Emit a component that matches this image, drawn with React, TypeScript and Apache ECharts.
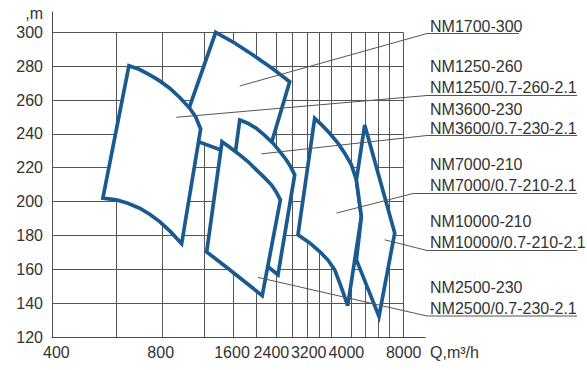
import React, { useEffect, useRef } from "react";
import * as echarts from "echarts";

// Printed (non-uniform) flow scale: Q stops (m³/h) and their positions along the axis
const SCALE_Q = [400, 600, 800, 1200, 1600, 2000, 2400, 2800, 3200, 3400, 3600, 4000, 5000, 6000, 7000, 8000];
const SCALE_POS = [0, 64.4, 110, 152.7, 181, 204.4, 224.4, 240.4, 255, 267.7, 279.4, 299.4, 313.7, 326, 337.7, 351];
const X_TICK_LABELS = [400, 800, 1600, 2400, 3200, 4000, 8000];
const Y_TICKS = [120, 140, 160, 180, 200, 220, 240, 260, 280, 300];

// Operating fields, [Q m³/h, H m]
const NM1700_300 = [[1355, 300], [1629, 293.7], [1942, 286.6], [2306, 278.9], [2732, 270.8], [2166, 221.1], [966, 239.4]];
const NM1250_260 = [[655, 280.3], [702, 278], [746, 274.8], [790, 271.3], [872, 267], [966, 261.5], [1060, 255.1], [1116, 250], [1162, 242.9], [984, 175.1], [882, 182.1], [790, 188.2], [746, 192.5], [702, 196.1], [650, 199], [600, 201], [558, 202]];
const NM3600_230 = [[1715, 248.2], [1851, 246.3], [2000, 243.3], [2166, 239.1], [2332, 234.5], [2483, 229.7], [2650, 224.6], [2758, 220.5], [2863, 215.8], [2440, 156.8], [1483, 182.1]];
const NM2500_230 = [[1445, 235.4], [1568, 231.7], [1715, 227.6], [1860, 223.5], [2000, 218.7], [2156, 214.3], [2300, 209.9], [2396, 205.7], [2500, 201], [2116, 144.4], [1829, 151.9], [1553, 159.7], [1228, 170.3]];
const NM7000_210 = [[3321, 249.2], [3434, 245.3], [3571, 240.4], [3726, 234.7], [3866, 228.6], [4000, 221.7], [4350, 212.8], [4699, 191.2], [3926, 138.5], [3786, 150.3], [3666, 159.7], [3537, 165.6], [3400, 170.5], [3243, 175.6], [2953, 180.4]];
const NM10000_210 = [[4930, 245.3], [7376, 181.4], [6085, 132.2], [4350, 165.6], [4699, 191.2], [4350, 212.8]];

const SHAPES = [NM1700_300, NM1250_260, NM3600_230, NM2500_230, NM7000_210, NM10000_210];

// Callout texts and the point (Q, H) each leader line starts from
const CALLOUT_TEXTS = [
  ["NM1700-300"],
  ["NM1250-260", "NM1250/0.7-260-2.1"],
  ["NM3600-230", "NM3600/0.7-230-2.1"],
  ["NM7000-210", "NM7000/0.7-210-2.1"],
  ["NM10000-210", "NM10000/0.7-210-2.1"],
  ["NM2500-230", "NM2500/0.7-230-2.1"],
];
const CALLOUT_ANCHORS = [[1715, 268.3], [935, 249.8], [2100, 228.2], [3700, 193.2], [6573, 177.4], [2032, 155.2]];

// Layout of the callouts (pixels)
const CALLOUT_LAYOUT = [
  { x: 430, baselines: [32], uy: 33.5, ux0: 427, ux1: 519 },
  { x: 430, baselines: [72, 93], uy: 95.5, ux0: 427, ux1: 577 },
  { x: 430, baselines: [115, 133.5], uy: 135.5, ux0: 427, ux1: 577 },
  { x: 430, baselines: [170, 190.5], uy: 193.5, ux0: 413, ux1: 577 },
  { x: 430, baselines: [226.5, 248], uy: 250.5, ux0: 427, ux1: 577 },
  { x: 430, baselines: [293, 313.5], uy: 316, ux0: 427, ux1: 577 },
];
// Horizontal nudge of each x tick label as printed (pixels)
const X_LABEL_SHIFT = [4.4, -1.3, -1, -5, 1.7, -5, 0.7];

const FONT = '"Liberation Sans", Arial, Helvetica, sans-serif';
const TEXT = "#333";
const GRID_C = "#555";
const BLUE = "#1b5a8f";

function qToX(q: number): number {
  const n = SCALE_Q.length;
  let i = 0;
  if (q <= SCALE_Q[0]) i = 0;
  else if (q >= SCALE_Q[n - 1]) i = n - 2;
  else {
    while (i < n - 2 && q > SCALE_Q[i + 1]) i++;
  }
  const t = (q - SCALE_Q[i]) / (SCALE_Q[i + 1] - SCALE_Q[i]);
  return SCALE_POS[i] + t * (SCALE_POS[i + 1] - SCALE_POS[i]);
}

export default function App() {
  const ref = useRef<HTMLDivElement>(null);
  useEffect(() => {
    if (!ref.current) return;
    const chart = echarts.init(ref.current, undefined, { renderer: "svg" });

    const gridData: any[] = [];
    const yMaxGrid = Y_TICKS[Y_TICKS.length - 1];
    const yMinGrid = Y_TICKS[0];
    Y_TICKS.forEach((h) => gridData.push({ coords: [[qToX(SCALE_Q[0]), h], [qToX(SCALE_Q[SCALE_Q.length - 1]), h]] }));
    SCALE_Q.forEach((q) => gridData.push({ coords: [[qToX(q), yMinGrid], [qToX(q), yMaxGrid]] }));

    const labelPos = X_TICK_LABELS.map((q) => qToX(q));
    const rich: any = {};
    X_LABEL_SHIFT.forEach((s, k) => {
      rich["t" + k] = {
        color: TEXT,
        fontSize: 16,
        fontFamily: FONT,
        padding: s >= 0 ? [0, 0, 0, 2 * s] : [0, -2 * s, 0, 0],
      };
    });

    const option: any = {
      animation: false,
      backgroundColor: "#fff",
      grid: { left: 52, top: 12, width: 373, height: 325, containLabel: false },
      xAxis: {
        type: "value",
        min: 0,
        max: 373,
        axisLine: { show: true, lineStyle: { color: "#444", width: 1 } },
        axisTick: { show: false },
        splitLine: { show: false },
        axisLabel: {
          customValues: labelPos,
          color: TEXT,
          fontSize: 16,
          fontFamily: FONT,
          margin: 7,
          rich,
          formatter: (v: number) => {
            const k = labelPos.findIndex((p) => Math.abs(p - v) < 0.01);
            return k >= 0 ? "{t" + k + "|" + X_TICK_LABELS[k] + "}" : "";
          },
        },
        name: "Q,m³/h",
        nameLocation: "end",
        nameGap: 5,
        nameTextStyle: { color: TEXT, fontSize: 16, fontFamily: FONT, align: "left", verticalAlign: "top", padding: [7, 0, 0, 0] },
      },
      yAxis: {
        type: "value",
        min: 120,
        max: 312,
        interval: 20,
        axisLine: { show: true, lineStyle: { color: "#444", width: 1 } },
        axisTick: { show: false },
        splitLine: { show: false },
        axisLabel: { color: TEXT, fontSize: 16, fontFamily: FONT, margin: 9, showMaxLabel: false },
        name: ",m",
        nameLocation: "end",
        nameGap: -1,
        nameTextStyle: { color: TEXT, fontSize: 16, fontFamily: FONT, align: "right", verticalAlign: "middle", padding: [0, 9, 0, 0] },
      },
      series: [
        {
          type: "lines",
          coordinateSystem: "cartesian2d",
          silent: true,
          z: 1,
          lineStyle: { color: GRID_C, width: 1, opacity: 1 },
          data: gridData,
        },
        {
          type: "custom",
          coordinateSystem: "cartesian2d",
          silent: true,
          z: 3,
          clip: false,
          data: SHAPES.map((_, i) => [i, 200]),
          encode: { x: 0, y: 1 },
          renderItem: (params: any, api: any) => {
            const pts = SHAPES[params.dataIndex].map(([q, h]) => api.coord([qToX(q), h]));
            return {
              type: "polygon",
              shape: { points: pts },
              style: { fill: "#fff", stroke: BLUE, lineWidth: 3.7, lineJoin: "miter" },
            };
          },
        },
      ],
    };
    chart.setOption(option);

    const graphics: any[] = [];
    CALLOUT_TEXTS.forEach((lines, i) => {
      const lay = CALLOUT_LAYOUT[i];
      const a = CALLOUT_ANCHORS[i];
      const p = chart.convertToPixel({ xAxisIndex: 0, yAxisIndex: 0 }, [qToX(a[0]), a[1]]) as number[];
      graphics.push({
        type: "line",
        silent: true,
        z: 10,
        shape: { x1: p[0], y1: p[1], x2: lay.ux0, y2: lay.uy },
        style: { stroke: GRID_C, lineWidth: 1 },
      });
      graphics.push({
        type: "line",
        silent: true,
        z: 10,
        shape: { x1: lay.ux0, y1: lay.uy, x2: lay.ux1, y2: lay.uy },
        style: { stroke: GRID_C, lineWidth: 1 },
      });
      lines.forEach((t, j) => {
        graphics.push({
          type: "text",
          silent: true,
          z: 10,
          style: {
            text: t,
            x: lay.x,
            y: lay.baselines[j] - 5.5,
            fill: TEXT,
            fontSize: 16,
            fontFamily: FONT,
            align: "left",
            verticalAlign: "middle",
          },
        });
      });
    });
    chart.setOption({ graphic: graphics });

    return () => chart.dispose();
  }, []);
  return <div ref={ref} style={{ position: "fixed", left: 0, top: 0, width: 587, height: 370 }} />;
}
